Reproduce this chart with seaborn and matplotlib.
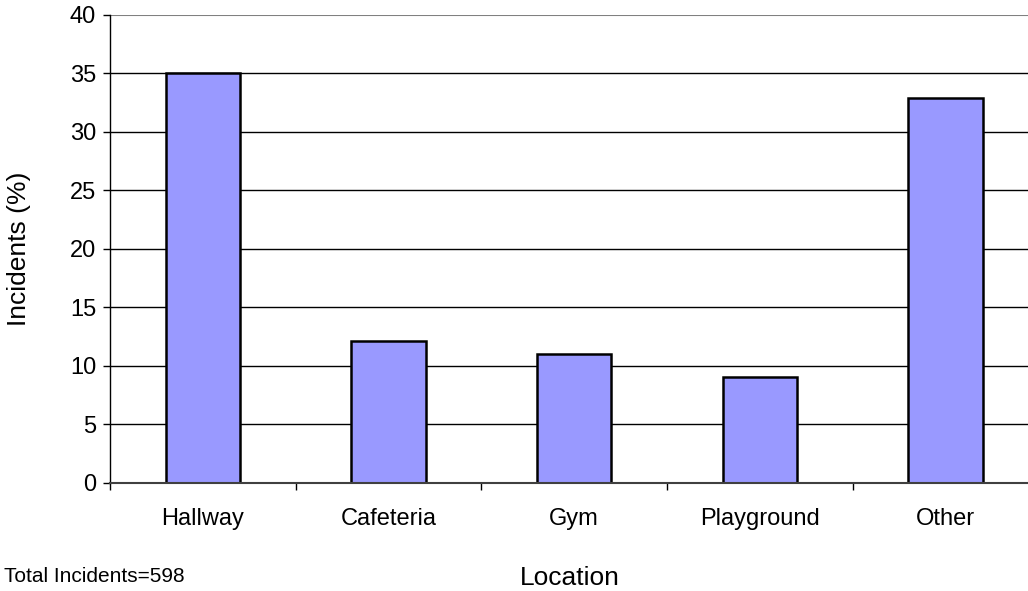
import matplotlib
matplotlib.use("Agg")
import matplotlib.pyplot as plt
import seaborn as sns
import pandas as pd
import numpy as np

categories = ["Hallway", "Cafeteria", "Gym", "Playground", "Other"]
incidents = [35, 12.1, 11, 9.05, 32.9]
y_ticks = [0, 5, 10, 15, 20, 25, 30, 35, 40]
total_note = "Total Incidents=598"

sns.set_theme(style="ticks")
plt.rcParams['font.family'] = ['Liberation Sans', 'DejaVu Sans']
plt.rcParams['text.color'] = 'black'
plt.rcParams['axes.labelcolor'] = 'black'
plt.rcParams['xtick.color'] = 'black'
plt.rcParams['ytick.color'] = 'black'

df = pd.DataFrame({"Location": categories, "Incidents": incidents})

fig = plt.figure(figsize=(10.28, 5.91), dpi=100)
ax = fig.add_axes([0.107, 0.183, 0.903, 0.792])

for y in y_ticks[1:]:
    ax.axhline(y, color="#000000" if y < 40 else "#808080", lw=1.0 if y < 40 else 1.5, zorder=0)

sns.barplot(data=df, x="Location", y="Incidents", ax=ax, color="#9999FF",
            saturation=1, width=0.40, edgecolor="black", linewidth=1.8, zorder=2)

ax.set_ylim(0, 40)
ax.set_xlim(-0.5, len(categories) - 0.5)
ax.set_yticks(y_ticks)
ax.set_yticklabels([str(v) for v in y_ticks], fontsize=17)
ax.set_xticks(range(len(categories)))
ax.set_xticklabels(categories, fontsize=17)
ax.set_xticks(np.arange(-0.5, len(categories), 1.0), minor=True)
ax.tick_params(axis="x", which="major", length=0, pad=18, bottom=True)
ax.tick_params(axis="x", which="minor", length=5, width=1, color="black", direction="out", bottom=True)
ax.tick_params(axis="y", which="major", length=5, width=1, color="black", direction="out", pad=5, left=True)
ax.tick_params(axis="y", which="minor", left=False)

for s in ["top", "right"]:
    ax.spines[s].set_visible(False)
ax.spines["left"].set_color("black")
ax.spines["left"].set_linewidth(1.0)
ax.spines["bottom"].set_color("#404040")
ax.spines["bottom"].set_linewidth(1.5)

ax.set_xlabel("Location", fontsize=19)
ax.xaxis.set_label_coords(0.495, -0.178)
ax.set_ylabel("Incidents (%)", fontsize=19, labelpad=28)
fig.text(0.004, 0.008, total_note, fontsize=15, ha="left", va="bottom")

fig.savefig("out.png", dpi=100)
